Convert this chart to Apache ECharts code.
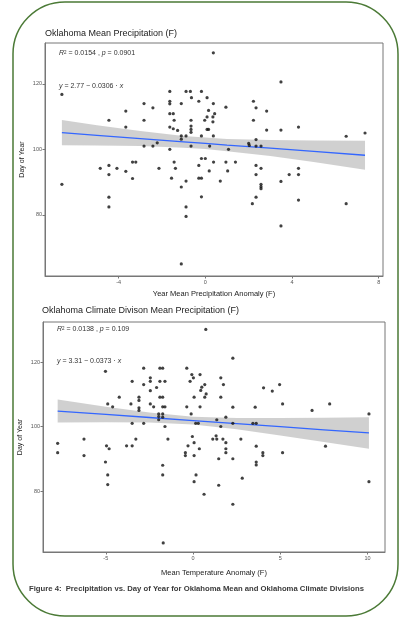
<!DOCTYPE html>
<html>
<head>
<meta charset="utf-8">
<script src="https://cdn.jsdelivr.net/npm/echarts@6/dist/echarts.min.js"></script>
<style>
  html, body { margin: 0; padding: 0; background: #fff; }
  #chart { width: 405px; height: 620px; }
</style>
</head>
<body>
<div id="chart"></div>
<script>
// --- data ---
// top panel: year mean precipitation anomaly vs day of year
const precipPts = [
  [-6.62,116.8],[-6.62,89.3],
  [-4.45,108.9],[-4.45,95.1],[-4.45,92.3],[-4.45,85.4],[-4.45,82.4],
  [-4.85,94.2],[-4.08,94.2],
  [-3.67,111.7],[-3.67,106.8],[-3.67,93.3],
  [-3.36,91.1],[-3.36,96.1],[-3.21,96.1],
  [-2.83,114],[-2.83,108.9],[-2.83,101],
  [-2.42,112.7],[-2.42,101],[-2.22,102],[-2.14,94.2],
  [-1.64,117.7],[-1.64,114.7],[-1.64,113.9],[-1.64,110.9],[-1.48,110.9],[-1.64,106.8],[-1.48,106.3],
  [-1.44,108.9],[-1.64,100],[-1.44,96.1],[-1.38,94.2],[-1.56,91.2],[-1.28,105.8],
  [-1.11,114],[-1.11,104.1],[-1.11,103.1],[-1.11,88.5],[-1.11,65],
  [-0.89,117.7],[-0.69,117.7],[-0.64,115.8],
  [-0.66,108.9],[-0.66,107.1],[-0.66,106.1],[-0.66,105.2],
  [-0.89,104.1],[-0.66,101],[-0.89,90.3],[-0.89,82.4],[-0.89,79.5],
  [-0.3,114.7],[-0.18,117.7],[-0.18,104.1],[-0.03,108.9],
  [0.08,115.8],[0.15,111.9],[0.08,109.9],[0.08,106.1],[0.15,106.1],
  [-0.18,97.2],[0,97.2],[-0.3,95.1],[-0.3,91.2],[-0.18,91.2],[-0.18,85.5],[0.18,93.4],[0.2,101],
  [0.37,114],[0.43,110.9],[0.35,109.9],[0.35,108.4],[0.37,104.1],[0.38,96.1],[0.37,129.5],
  [0.69,90.3],[0.95,112.9],[0.95,96.1],[1.03,93.4],[1.07,100],[1.39,96.1],
  [2.0,101.8],[2.03,101.2],
  [2.22,114.7],[2.34,112.7],[2.22,108.9],[2.34,103],[2.34,101],[2.57,101],
  [2.34,95.1],[2.57,94.2],[2.34,92.3],[2.57,89.3],[2.57,88.6],[2.57,88],[2.34,85.4],[2.17,83.4],
  [2.83,111.7],[2.83,105.9],
  [3.49,120.6],[3.49,105.9],[3.49,90.2],[3.49,76.6],[3.87,92.3],
  [4.3,106.8],[4.3,94.2],[4.3,92.3],[4.3,84.5],
  [6.5,104],[6.5,83.4],[7.37,105]
];
// fitted line and 95% band (top)
const fitX1  = [-6.62, -5, -3, -1, 0, 1, 3, 5, 7.37];
const fitY1  = [105.1, 104.3, 103.3, 102.3, 101.8, 101.3, 100.4, 99.4, 98.2];
const bandLo1 = [101.25, 101.2, 101.0, 100.5, 100.1, 99.44, 97.95, 96.12, 93.8];
const bandHi1 = [108.95, 107.4, 105.6, 104.1, 103.6, 103.16, 102.85, 102.68, 102.6];

// bottom panel: climate division mean temperature anomaly vs day of year
const divisionPts = [
  [0.73,130.1],
  [-7.76,94.8],[-7.76,91.9],[-6.25,96.1],[-6.25,91.0],
  [-5.02,117.1],[-4.89,107.0],[-4.61,106.1],[-4.23,109.1],
  [-4.96,94.0],[-4.81,93.1],[-5.02,89.0],[-4.89,85.0],[-4.89,82.0],
  [-3.81,94.0],[-3.49,94.0],[-3.28,96.1],
  [-3.49,114.0],[-3.56,107.0],[-3.49,101.0],
  [-2.83,118.1],[-2.83,113.0],[-2.83,101.0],
  [-3.1,109.1],[-3.1,108.1],[-3.1,105.8],[-3.1,105.0],
  [-2.45,115.1],[-2.45,114.0],[-2.45,111.1],[-2.45,107.0],[-2.26,106.1],[-2.09,112.1],
  [-1.9,118.1],[-1.74,118.1],[-1.9,114.0],[-1.61,114.0],[-1.9,109.1],[-1.74,109.1],
  [-1.74,106.1],[-1.61,106.1],[-1.97,103.9],[-1.97,103.1],[-1.74,103.9],[-1.74,102.9],[-1.97,102.1],
  [-1.61,100],[-1.44,96.1],[-1.74,88.0],[-1.74,85.0],[-1.71,63.9],
  [-0.36,118.1],[-0.07,116.1],[0.02,115.1],[-0.17,114.0],[0.4,116.1],[0.67,113.0],[0.5,112.2],
  [0.44,111.2],[0.75,110.1],[0.67,109.1],[0.06,109.1],
  [-0.36,106.1],[0.4,106.1],[-0.11,103.9],[0.15,101.0],[0.3,101.0],[-0.04,96.9],[-0.29,94.0],
  [0.06,95.0],[0.36,93.1],[-0.44,91.9],[-0.44,91.0],[0.06,91.0],[0.17,85.0],[0.06,82.9],[0.63,79.0],
  [1.47,90.0],[1.47,81.8],[1.59,115.1],[1.74,113.0],[1.59,109.1],[1.88,102.9],[1.36,102.1],[1.59,100],
  [1.32,97.1],[1.36,96.1],[1.13,96.1],[1.71,96.1],[1.88,95.0],[1.88,93.1],[1.88,91.9],
  [2.28,121.2],[2.28,106.0],[2.28,101.0],[2.74,96.1],[2.28,90.0],[2.82,84.0],[2.28,75.9],
  [3.43,101.0],[3.62,101.0],[3.56,106.0],[4.04,112.0],[4.54,111.0],[4.96,113.0],[5.13,107.0],
  [6.82,105.0],[7.83,107.0],[10.08,103.9],[10.08,82.9],[7.59,93.9],[5.13,91.9],[3.62,93.9],
  [4.0,91.9],[4.0,91.0],[3.62,89.0],[3.62,88.1]
];
const fitX2  = [-7.76, -5, -2.5, 0, 2.5, 5, 7.5, 10.08];
const fitY2  = [104.8, 103.75, 102.8, 101.84, 100.9, 99.94, 98.98, 98.0];
const bandLo2 = [101.25, 101.35, 101.28, 100.65, 99.13, 97.22, 95.21, 93.1];
const bandHi2 = [108.35, 106.15, 104.32, 103.03, 102.67, 102.66, 102.75, 102.9];

const xTicks1 = [-4, 0, 4, 8];
const xTicks2 = [-5, 0, 5, 10];
const yTicks = [80, 100, 120];

const chart = echarts.init(document.getElementById('chart'));
const FONT = '"Liberation Sans", Arial, sans-serif';

function xAxisCfg(idx, min, max, ticks, name, gap) {
  return {
    type: 'value', gridIndex: idx, min: min, max: max,
    name: name, nameLocation: 'middle', nameGap: gap,
    nameTextStyle: { fontFamily: FONT, fontSize: 7.5, color: '#222' },
    axisLine: { show: true, onZero: false, lineStyle: { color: '#777', width: 1 } },
    axisTick: { show: true, length: 2.5, customValues: ticks, lineStyle: { color: '#777' } },
    axisLabel: { customValues: ticks, fontFamily: FONT, fontSize: 5.5, color: '#555', margin: 3 },
    splitLine: { show: false }
  };
}
function yAxisCfg(idx, min, max, gap) {
  return {
    type: 'value', gridIndex: idx, min: min, max: max,
    name: 'Day of Year', nameLocation: 'middle', nameGap: gap, nameMoveOverlap: false,
    nameTextStyle: { fontFamily: FONT, fontSize: 7, color: '#222' },
    axisLine: { show: true, onZero: false, lineStyle: { color: '#777', width: 1 } },
    axisTick: { show: true, length: 2.5, customValues: yTicks, lineStyle: { color: '#777' } },
    axisLabel: { customValues: yTicks, fontFamily: FONT, fontSize: 5.5, color: '#555', margin: 3 },
    splitLine: { show: false }
  };
}

// confidence band as one polygon, positioned through the axes
function bandSeries(idx, xs, lo, hi) {
  return {
    type: 'custom', xAxisIndex: idx, yAxisIndex: idx, silent: true, z: 1,
    data: xs.map((x, i) => [x, lo[i], hi[i]]),
    renderItem: function (params, api) {
      if (params.dataIndex !== 0) return null;
      const upper = xs.map((x, i) => api.coord([x, hi[i]]));
      const lower = xs.map((x, i) => api.coord([x, lo[i]])).reverse();
      return {
        type: 'polygon',
        shape: { points: upper.concat(lower) },
        style: { fill: '#c8c8c8', opacity: 0.85 }
      };
    }
  };
}

const option = {
  animation: false,
  backgroundColor: '#fff',
  grid: [
    { left: 45, top: 43, width: 338, height: 233, show: true, borderColor: '#777', borderWidth: 1, backgroundColor: '#fff' },
    { left: 43, top: 322, width: 342, height: 230, show: true, borderColor: '#777', borderWidth: 1, backgroundColor: '#fff' }
  ],
  xAxis: [
    xAxisCfg(0, -7.4, 8.2, xTicks1, 'Year Mean Precipitation Anomaly (F)', 14),
    xAxisCfg(1, -8.6, 11.0, xTicks2, 'Mean Temperature Anomaly (F)', 17)
  ],
  yAxis: [
    yAxisCfg(0, 61.3, 132.5, 19),
    yAxisCfg(1, 61.1, 132.4, 19)
  ],
  series: [
    bandSeries(0, fitX1, bandLo1, bandHi1),
    { type: 'line', xAxisIndex: 0, yAxisIndex: 0, symbol: 'none', z: 3,
      lineStyle: { color: '#3366ff', width: 1.3 }, data: fitX1.map((x, i) => [x, fitY1[i]]) },
    { type: 'scatter', xAxisIndex: 0, yAxisIndex: 0, symbolSize: 3.2, z: 4,
      itemStyle: { color: '#111' }, data: precipPts },
    bandSeries(1, fitX2, bandLo2, bandHi2),
    { type: 'line', xAxisIndex: 1, yAxisIndex: 1, symbol: 'none', z: 3,
      lineStyle: { color: '#3366ff', width: 1.3 }, data: fitX2.map((x, i) => [x, fitY2[i]]) },
    { type: 'scatter', xAxisIndex: 1, yAxisIndex: 1, symbolSize: 3.2, z: 4,
      itemStyle: { color: '#111' }, data: divisionPts }
  ],
  graphic: [
    // green frame of the poster panel
    { type: 'rect', shape: { x: 13, y: 2, width: 385, height: 614, r: 52 },
      style: { fill: 'none', stroke: '#4b7a36', lineWidth: 1.5 }, z: 0 },
    { type: 'text', left: 45, top: 29, style: { text: 'Oklahoma Mean Precipitation (F)', font: '9px ' + FONT, fill: '#222' } },
    { type: 'text', left: 42, top: 306, style: { text: 'Oklahoma Climate Divison Mean Precipitation (F)', font: '9px ' + FONT, fill: '#222' } },
    { type: 'text', left: 59, top: 50, z: 10, style: {
      text: '{i|R}{s|2} = 0.0154 , {i|p} = 0.0901', font: '7px ' + FONT, fill: '#333',
      rich: { i: { fontStyle: 'italic', fontSize: 7, fontFamily: FONT }, s: { fontSize: 4.5, verticalAlign: 'top', fontFamily: FONT } } } },
    { type: 'text', left: 59, top: 83, z: 10, style: {
      text: '{i|y} = 2.77 \u2212 0.0306 \u00b7 {i|x}', font: '7px ' + FONT, fill: '#333',
      rich: { i: { fontStyle: 'italic', fontSize: 7, fontFamily: FONT } } } },
    { type: 'text', left: 57, top: 326, z: 10, style: {
      text: '{i|R}{s|2} = 0.0138 , {i|p} = 0.109', font: '7px ' + FONT, fill: '#333',
      rich: { i: { fontStyle: 'italic', fontSize: 7, fontFamily: FONT }, s: { fontSize: 4.5, verticalAlign: 'top', fontFamily: FONT } } } },
    { type: 'text', left: 57, top: 358, z: 10, style: {
      text: '{i|y} = 3.31 \u2212 0.0373 \u00b7 {i|x}', font: '7px ' + FONT, fill: '#333',
      rich: { i: { fontStyle: 'italic', fontSize: 7, fontFamily: FONT } } } },
    { type: 'text', left: 29, top: 585, style: {
      text: 'Figure 4:  Precipitation vs. Day of Year for Oklahoma Mean and Oklahoma Climate Divisions',
      font: 'bold 7.7px ' + FONT, fill: '#3a3a3a' } }
  ]
};
chart.setOption(option);
</script>
</body>
</html>
